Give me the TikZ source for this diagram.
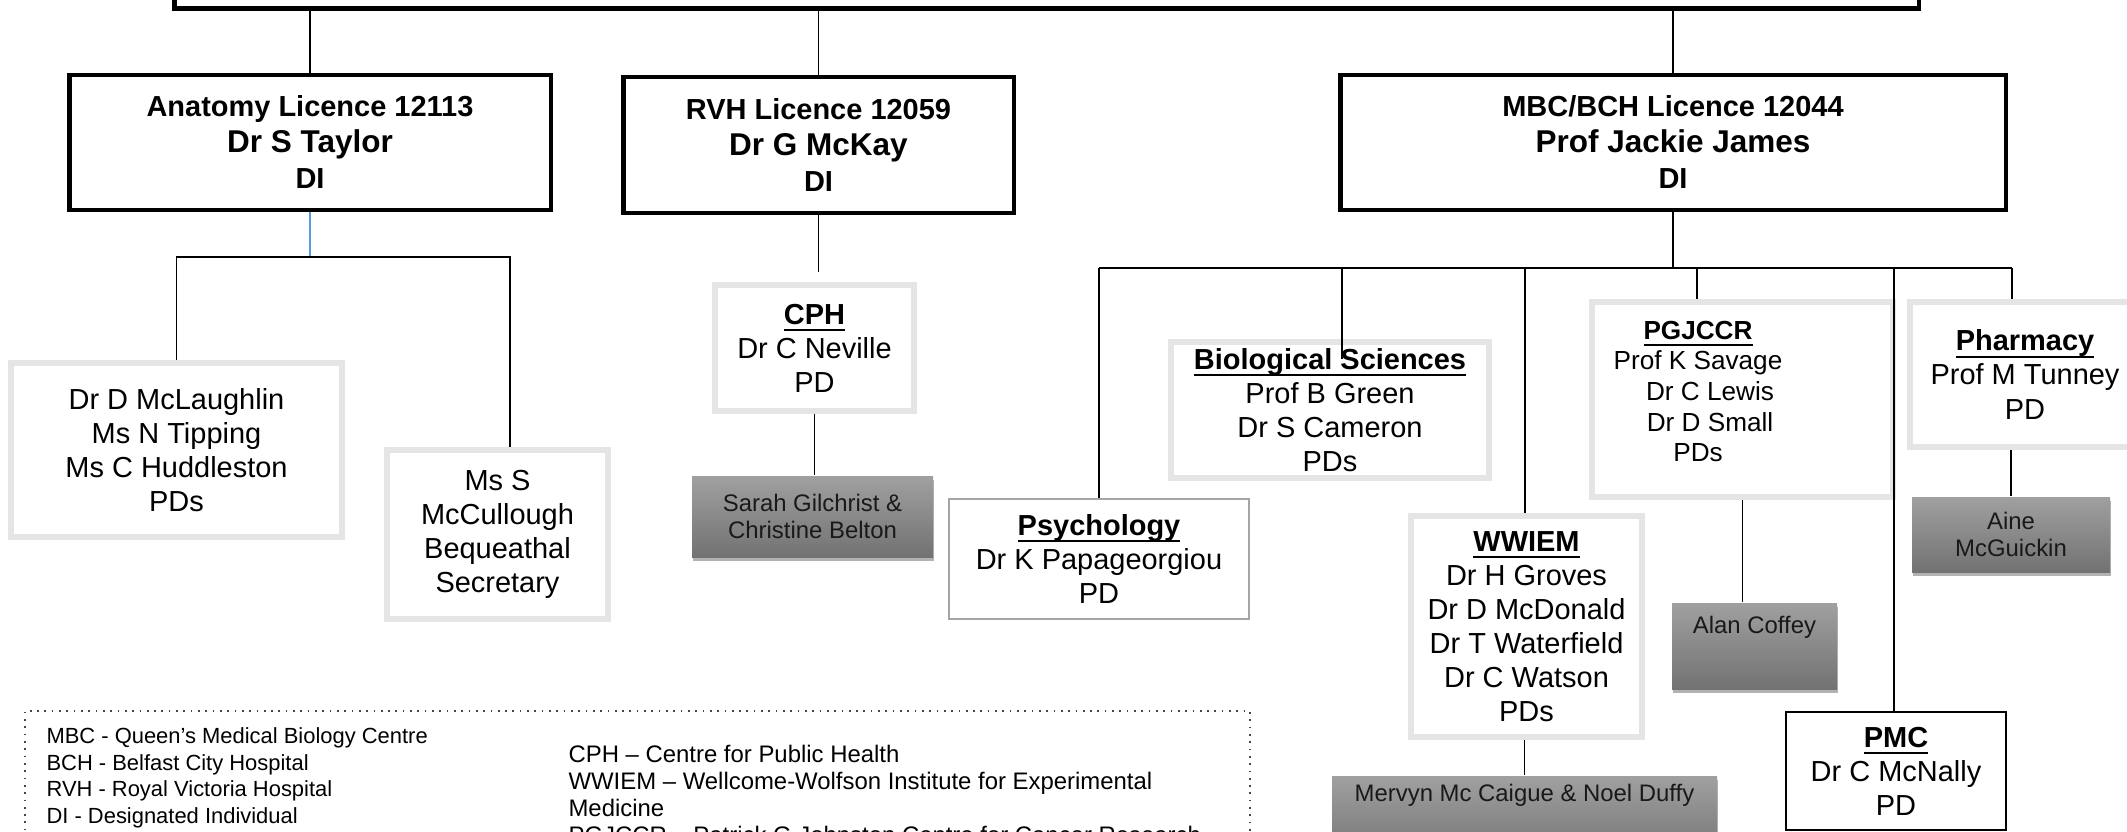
\documentclass[tikz,border=0pt]{standalone}
\usepackage{fontspec}
\setmainfont{Liberation Sans}
\usetikzlibrary{shadows}

\definecolor{paleline}{RGB}{229,229,229}
\definecolor{greytop}{RGB}{160,160,160}
\definecolor{greybot}{RGB}{114,114,114}
\definecolor{thingrey}{RGB}{165,165,165}
\definecolor{linkblue}{RGB}{91,155,213}
\definecolor{keyline}{RGB}{70,70,70}
\definecolor{greytext}{RGB}{25,25,25}

\newcommand{\hdul}[1]{\setbox0=\hbox{#1}\rlap{\rule[-2.4pt]{\wd0}{0.75pt}}\box0}

\tikzset{
  boxsize/.style 2 args={minimum width=#1*0.0125cm, minimum height=#2*0.0125cm},
  licbox/.style={draw, line width=1.6pt, fill=white, inner sep=0pt, align=center,
    font=\fontsize{10.3}{12.8}\selectfont\bfseries},
  palebox/.style={draw=paleline, line width=2pt, fill=white, inner sep=0pt, align=center,
    font=\fontsize{10.3}{12.1}\selectfont},
  thinbox/.style={draw=thingrey, line width=0.6pt, fill=white, inner sep=0pt, align=center,
    font=\fontsize{10.3}{12.1}\selectfont},
  greybox/.style={top color=greytop, bottom color=greybot, inner sep=0pt, align=center,
    text=greytext, font=\fontsize{8.5}{9.7}\selectfont,
    drop shadow={shadow xshift=0.5pt, shadow yshift=-1.3pt, fill=black, opacity=0.3}},
  smalltext/.style={inner sep=0pt, align=center, font=\fontsize{9.3}{10.9}\selectfont},
  keytext/.style={anchor=north west, inner sep=0pt, align=left},
  conn/.style={line width=0.6pt}
}

\begin{document}
\begin{tikzpicture}[x=0.0125cm, y=-0.0125cm]
  \useasboundingbox (0,0) rectangle (2127,832);
  \clip (0,0) rectangle (2127,832);

  % Licence boxes
  \node (top) [licbox, boxsize={1744.5}{77.5}] at (1046.5,-30) {};
  \node (anat) [licbox, boxsize={481.5}{134.5}] at (310,142.5)
    {Anatomy Licence 12113\\{\fontsize{11.2}{12.8}\selectfont Dr S Taylor}\\DI};
  \node (rvh) [licbox, boxsize={390.5}{135.5}] at (818.5,145)
    {RVH Licence 12059\\{\fontsize{11.2}{12.8}\selectfont Dr G McKay}\\DI};
  \node (mbc) [licbox, boxsize={665.5}{134.5}] at (1673,142.5)
    {MBC/BCH Licence 12044\\{\fontsize{11.2}{12.8}\selectfont Prof Jackie James}\\DI};

  % Anatomy staff
  \node (mcl) [palebox, boxsize={331.4}{174.4}] at (176.5,450)
    {Dr D McLaughlin\\Ms N Tipping\\Ms C Huddleston\\PDs};
  \node (mcc) [palebox, boxsize={221.4}{169.4}] at (497.5,534.5)
    {Ms S\\McCullough\\Bequeathal\\Secretary};

  % RVH staff
  \node (cph) [palebox, boxsize={199.4}{126.4}] at (814.5,348)
    {\hdul{\textbf{CPH}}\\Dr C Neville\\PD};
  \node (sarah) [greybox, boxsize={241}{81}] at (812.5,516.5)
    {Sarah Gilchrist \&\\Christine Belton};

  % MBC/BCH units
  \node (psych) [thinbox, boxsize={300}{120}] at (1099,559)
    {\hdul{\textbf{Psychology}}\\Dr K Papageorgiou\\PD};
  \node (bio) [palebox, boxsize={318.4}{136.4}] at (1330,410)
    {\hdul{\textbf{Biological Sciences}}\\Prof B Green\\Dr S Cameron\\PDs};
  \node (pgj) [palebox, boxsize={301.4}{195.4}] at (1742.5,399.5) {};
  \node (pgjtxt) [smalltext] at (1698,391.5)
    {\hdul{\textbf{PGJCCR}}\\Prof K Savage\\\hspace*{0.3cm}Dr C Lewis\\\hspace*{0.3cm}Dr D Small\\PDs};
  \node (pharm) [palebox, boxsize={230.4}{145.4}] at (2025,374.5)
    {\hdul{\textbf{Pharmacy}}\\Prof M Tunney\\PD};
  \node (wwiem) [palebox, boxsize={231.4}{221.4}] at (1526.5,626.5)
    {\hdul{\textbf{WWIEM}}\\Dr H Groves\\Dr D McDonald\\Dr T Waterfield\\Dr C Watson\\PDs};
  \node (pmc) [thinbox, draw=black, boxsize={220.3}{118}] at (1896,771)
    {\hdul{\textbf{PMC}}\\Dr C McNally\\PD};
  \node (alan) [greybox, boxsize={165}{86}] at (1754.5,646) {Alan Coffey\\[5pt]\mbox{}};
  \node (aine) [greybox, boxsize={198}{75}] at (2011,534.5) {Aine\\McGuickin};
  \node (merv) [greybox, boxsize={385}{86}] at (1524.5,819)
    {Mervyn Mc Caigue \& Noel Duffy\\[9pt]\mbox{}};

  % Key
  \node (key) [draw=keyline, dotted, line width=0.6pt, boxsize={1225}{189}, inner sep=0pt] at (637.5,805.5) {};
  \node (keyl) [keytext, font=\fontsize{7.8}{9.5}\selectfont] at (46,727)
    {MBC - Queen’s Medical Biology Centre\\BCH - Belfast City Hospital\\RVH - Royal Victoria Hospital\\DI - Designated Individual};
  \node (keyr) [keytext, font=\fontsize{8.5}{9.5}\selectfont] at (568,745)
    {CPH – Centre for Public Health\\WWIEM – Wellcome-Wolfson Institute for Experimental\\Medicine\\PGJCCR – Patrick G Johnston Centre for Cancer Research};

  % Links from the top box
  \draw[conn] (anat.north) -- (anat.north |- top.south);
  \draw[conn] (rvh.north) -- (rvh.north |- top.south);
  \draw[conn] (mbc.north) -- (mbc.north |- top.south);

  % Anatomy links
  \coordinate (abr) at (510,257);
  \draw[line width=0.5pt, linkblue] (anat.south) -- (anat.south |- abr);
  \draw[conn] (mcl.north) |- (abr) -- (abr |- mcc.north);

  % RVH links
  \draw[conn, shorten >=3.5pt] (rvh.south) -- (rvh.south |- cph.north);
  \draw[conn] (cph.south) -- (cph.south |- sarah.north);

  % MBC/BCH links
  \coordinate (busl) at (1099,268);
  \coordinate (busr) at (2012,268);
  \coordinate (bbio) at (1342,268);
  \coordinate (bww) at (1525,268);
  \coordinate (bpg) at (1697,268);
  \coordinate (bpm) at (1894,268);
  \draw[conn] (mbc.south) -- (mbc.south |- busl);
  \draw[conn] (busl) -- (busr);
  \draw[conn] (busl) -- (psych.north);
  \draw[conn] (bbio) -- (bbio |- bio.north) -- ++(0,20);
  \draw[conn] (bww) -- (bww |- wwiem.north);
  \draw[conn] (bpg) -- (bpg |- pgj.north);
  \draw[conn] (bpm) -- (bpm |- pmc.north);
  \draw[conn] (busr) -- (busr |- pharm.north);
  \draw[conn] (pgj.south) -- (pgj.south |- alan.north);
  \draw[conn] (aine.north) -- (aine.north |- pharm.south);
  \draw[conn] (merv.north) -- (merv.north |- wwiem.south);
\end{tikzpicture}
\end{document}
